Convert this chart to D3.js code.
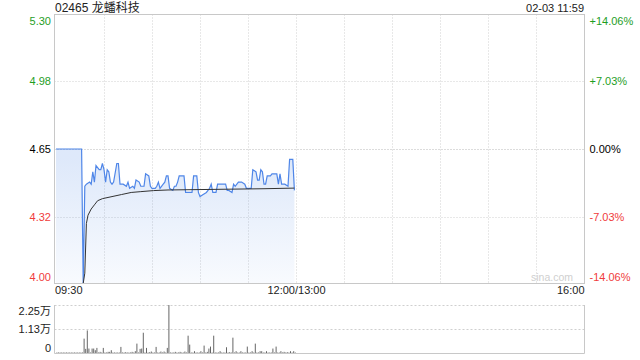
<!DOCTYPE html>
<html><head><meta charset="utf-8">
<script src="https://cdn.jsdelivr.net/npm/d3@7"></script>
<style>
body{margin:0;background:#fff}
svg{display:block;font-family:"Liberation Sans",Arial,"Noto Sans CJK SC",sans-serif}
</style>
</head><body>
<svg id="c" width="640" height="360"></svg>
<script>
// ---- data ----
const title = "02465 龙蟠科技";
const stamp = "02-03 11:59";
const prevClose = 4.65;
const priceTicks = [5.30, 4.977, 4.65, 4.323, 4.00];
const pctLabels = ["+14.06%", "+7.03%", "0.00%", "-7.03%", "-14.06%"];
const volTicks = [22500, 11250, 0];
const volLabels = ["2.25万", "1.13万", "0"];
const timeTicks = [0, 150, 330];            // trading minutes since 09:30 (lunch removed)
const timeLabels = ["09:30", "12:00/13:00", "16:00"];

// price line: minute offset since 09:30 and price
const priceMin = [0,16,17,18,19,21,22,23,24,25,27,28,29,30,31,32,33,34,35,36,38,39,40,42,44,45,46,48,49,50,52,53,55,56,58,59,60,62,63,64,65,67,68,69,70,71,73,74,75,76,77,80,81,85,86,88,89,90,92,94,96,97,98,100,101,104,106,107,108,110,111,112,114,116,118,119,122,123,125,126,127,128,129,130,131,132,134,135,138,139,140,141,143,145,146,148,149];
const priceVal = [4.65,4.65,4.00,4.47,4.48,4.49,4.48,4.54,4.49,4.57,4.55,4.55,4.58,4.55,4.49,4.55,4.54,4.49,4.48,4.49,4.58,4.58,4.48,4.48,4.47,4.49,4.46,4.47,4.46,4.50,4.49,4.47,4.47,4.53,4.52,4.47,4.46,4.46,4.47,4.49,4.46,4.48,4.49,4.52,4.52,4.46,4.45,4.47,4.47,4.49,4.52,4.52,4.44,4.44,4.52,4.52,4.44,4.42,4.43,4.44,4.46,4.48,4.44,4.44,4.48,4.48,4.48,4.45,4.45,4.44,4.48,4.47,4.49,4.49,4.48,4.46,4.46,4.55,4.54,4.50,4.50,4.55,4.54,4.48,4.48,4.52,4.52,4.53,4.53,4.48,4.53,4.48,4.48,4.47,4.60,4.60,4.45];

// average price line
const avgMin = [17,18,19,20,22,24,26,29,35,41,47,53,61,70,100,130,149];
const avgVal = [4.00,4.05,4.29,4.33,4.36,4.38,4.40,4.41,4.42,4.43,4.44,4.444,4.449,4.452,4.455,4.458,4.461];

// volume per minute, 09:30 .. 11:59
const volumes = [
150,150,150,150,150,150,150,150,150,150,150,150,150,150,150,150,150,
6900,2150,10700,2300,300,2300,2300,1530,2600,300,770,300,2600,300,300,770,770,1530,300,
300,300,300,300,3060,300,300,610,300,300,300,770,300,1080,4590,300,2140,2300,9640,300,
2600,300,610,920,300,300,3060,300,300,920,300,920,300,2600,22500,300,300,300,770,300,
300,770,300,300,920,300,8270,4130,300,300,1070,300,300,300,1070,300,3670,300,770,2300,
3210,300,8270,300,300,300,1080,300,300,300,2900,300,610,300,7350,300,1070,300,300,1070,
300,300,300,3210,300,300,1070,300,4590,300,300,1070,1070,300,300,1070,300,300,300,2300,
300,3210,300,300,1080,300,770,300,610,300,1070,300,1070,300];

// ---- drawing ----
const svg = d3.select("#c");
const L = 54.5, R = 584.5, T = 14.5, B = 283.5, VT = 305, VB = 353.5;
const green = "#1f9e1f", red = "#f03c3c";
const x = d3.scaleLinear().domain([0, 330]).range([56, 584]);
const y = d3.scaleLinear().domain([4.00, 5.30]).range([B, T]);
const yV = d3.scaleLinear().domain([0, 22500]).range([VB, VT]);

const colorFor = v => v > prevClose + 1e-6 ? green : (v < prevClose - 1e-6 ? red : "#000");

// gradient
const defs = svg.append("defs");
const grad = defs.append("linearGradient").attr("id","fillg")
  .attr("gradientUnits","userSpaceOnUse").attr("x1",0).attr("x2",0).attr("y1",y(4.6)).attr("y2",B);
grad.append("stop").attr("offset",0).attr("stop-color","#5a8fe6").attr("stop-opacity",0.2);
grad.append("stop").attr("offset",1).attr("stop-color","#5a8fe6").attr("stop-opacity",0.04);

// grid
const grid = svg.append("g");
d3.range(30, 330, 30).forEach(m => {
  const gx = Math.round(x(m)) + 0.5;
  grid.append("line").attr("x1",gx).attr("x2",gx).attr("y1",T).attr("y2",B)
    .attr("stroke","#d0d0d0").attr("stroke-dasharray","1,2");
});
[priceTicks[1], priceTicks[2], priceTicks[3]].forEach(v => {
  const gy = Math.round(y(v)) + 0.5;
  grid.append("line").attr("x1",L).attr("x2",R).attr("y1",gy).attr("y2",gy)
    .attr("stroke", v === prevClose ? "#b8b8b8" : "#d0d0d0").attr("stroke-dasharray","1,2");
});

// area + lines
const pts = priceMin.map((m,i) => [m, priceVal[i]]);
const area = d3.area().x(d => x(d[0])).y0(B).y1(d => y(d[1]));
svg.append("path").datum(pts).attr("d", area).attr("fill","url(#fillg)");
svg.append("path").datum(pts)
  .attr("d", d3.line().x(d => x(d[0])).y(d => y(d[1])))
  .attr("fill","none").attr("stroke","#4f86e8").attr("stroke-width",1.2);
const apts = avgMin.map((m,i) => [m, avgVal[i]]);
svg.append("path").datum(apts)
  .attr("d", d3.line().x(d => x(d[0])).y(d => y(d[1])))
  .attr("fill","none").attr("stroke","#333").attr("stroke-width",1);

// frame
svg.append("rect").attr("x",L).attr("y",T).attr("width",R-L).attr("height",B-T)
  .attr("fill","none").attr("stroke","#c8c8c8");

// watermark
svg.append("text").attr("x",573).attr("y",281).attr("text-anchor","end")
  .attr("font-size",10.5).attr("fill","#cfcfcf").text("sina.com");

// price axes
const gL = svg.append("g").attr("transform",`translate(${L-0.5},0)`)
  .call(d3.axisLeft(y).tickValues(priceTicks).tickFormat(d3.format(".2f")).tickSize(0).tickPadding(3));
const gR = svg.append("g").attr("transform",`translate(${R},0)`)
  .call(d3.axisRight(y).tickValues(priceTicks).tickFormat((d,i) => pctLabels[i]).tickSize(0).tickPadding(5));
[gL, gR].forEach(g => {
  g.select(".domain").remove();
  g.attr("font-family", null).attr("font-size", null);
  g.selectAll("text").attr("font-size", 11)
    .attr("fill", d => colorFor(d))
    .attr("dy", (d,i) => i === 0 ? "0.9em" : (i === priceTicks.length - 1 ? "-0.3em" : "0.32em"));
});

// time axis
const gT = svg.append("g").attr("transform",`translate(0,${B})`)
  .call(d3.axisBottom(x).tickValues(timeTicks).tickFormat((d,i) => timeLabels[i]).tickSize(0).tickPadding(3));
gT.select(".domain").remove();
gT.attr("font-family", null).attr("font-size", null);
gT.selectAll("text").attr("font-size", 11).attr("fill","#222")
  .attr("text-anchor", (d,i) => i === 0 ? "start" : (i === timeTicks.length - 1 ? "end" : "middle"))
  .attr("dx", (d,i) => i === 0 ? -1.5 : 0);

// volume panel
const vg = svg.append("g");
[volTicks[0], volTicks[1]].forEach(v => {
  const gy = Math.round(yV(v)) + 0.5;
  vg.append("line").attr("x1",L).attr("x2",R).attr("y1",gy).attr("y2",gy)
    .attr("stroke","#cfcfcf").attr("stroke-dasharray","2,2");
});
vg.selectAll("rect.v").data(volumes).join("rect").attr("class","v")
  .attr("x", (d,i) => x(i) + 0.4)
  .attr("width", 1)
  .attr("y", d => Math.min(yV(d), VB - 1))
  .attr("height", d => Math.max(VB - yV(d), 1))
  .attr("fill", "#666");
vg.append("line").attr("x1",L).attr("x2",R).attr("y1",VB).attr("y2",VB).attr("stroke","#c8c8c8");
vg.append("line").attr("x1",L).attr("x2",L).attr("y1",VT).attr("y2",VB).attr("stroke","#c8c8c8");
vg.append("line").attr("x1",R).attr("x2",R).attr("y1",VT).attr("y2",VB).attr("stroke","#c8c8c8");

const gV = svg.append("g").attr("transform",`translate(${L-0.5},0)`)
  .call(d3.axisLeft(yV).tickValues(volTicks).tickFormat((d,i) => volLabels[i]).tickSize(0).tickPadding(3));
gV.select(".domain").remove();
gV.attr("font-family", null).attr("font-size", null);
gV.selectAll("text").attr("font-size", 11).attr("fill","#222")
  .attr("dy", (d,i) => i === 0 ? "0.85em" : (i === volTicks.length - 1 ? "-0.2em" : "0.32em"));

// header
svg.append("text").attr("x",55).attr("y",12).attr("font-size",12).attr("fill","#222").text(title);
svg.append("text").attr("x",584).attr("y",12).attr("text-anchor","end").attr("font-size",11).attr("fill","#222").text(stamp);
</script>
</body></html>
